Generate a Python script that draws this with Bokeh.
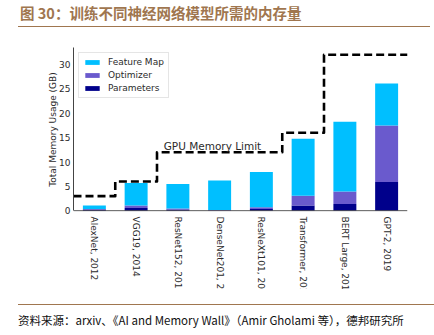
import math
from bokeh.plotting import figure
from bokeh.models import (ColumnDataSource, Range1d, FactorRange, FixedTicker,
                          Legend, LegendItem, Span, Div)
from bokeh.layouts import column
from bokeh.core.properties import value
from bokeh.embed import file_html
from bokeh.resources import INLINE

# ---------------- data ----------------
title_text = "图 30：训练不同神经网络模型所需的内存量"
source_text = "资料来源：arxiv、《AI and Memory Wall》（Amir Gholami 等），德邦研究所"
models = ["AlexNet, 2012", "VGG19, 2014", "ResNet152, 2015", "DenseNet201, 2016",
          "ResNeXt101, 2016", "Transformer, 2017", "BERT Large, 2018", "GPT-2, 2019"]
parameters = [0.24, 0.55, 0.24, 0.08, 0.35, 1.1, 1.37, 5.9]
optimizer = [0.1, 0.55, 0.2, 0.08, 0.35, 1.98, 2.6, 11.6]
feature_map = [0.76, 4.6, 5.06, 6.04, 7.25, 11.7, 14.3, 8.6]
gpu_limit = [3, 6, 12, 12, 12, 16, 32, 32]
y_ticks = [0, 5, 10, 15, 20, 25, 30]
series_names = ["Feature Map", "Optimizer", "Parameters"]
series_colors = ["#00BFFF", "#6A5ACD", "#00008B"]

BROWN = "#a0764f"
TXT = "#2b2b2b"
FONT = "DejaVu Sans"
CJK = "Noto Sans CJK SC"

# layout constants (pixels)
W, H_HEAD, H_FOOT = 434, 30, 46
FRAME_TOP, FRAME_LEFT, FRAME_RIGHT, FRAME_BOTTOM = 17, 73, 27, 5
FRAME_H = 164
Y_MIN, Y_MAX = -0.15, 33.5
H_MAIN = FRAME_TOP + FRAME_H + FRAME_BOTTOM
H_LAB = 335 - H_HEAD - H_MAIN - H_FOOT   # rows for the (clipped) category labels

# ---------------- header ----------------
head = Div(width=W, height=H_HEAD, margin=0, text=(
    f'<div style="position:relative;width:{W}px;height:{H_HEAD}px;">'
    f'<div style="position:absolute;left:20px;top:3px;white-space:nowrap;'
    f'font-family:\'{CJK}\';font-weight:bold;font-size:14.5px;line-height:20px;'
    f'color:{BROWN};">{title_text}</div>'
    f'<div style="position:absolute;left:18px;top:26px;width:412px;height:0;'
    f'border-top:1.5px solid {BROWN};"></div></div>'))

# ---------------- main chart ----------------
xr = FactorRange(*models, range_padding=0)
src = ColumnDataSource(dict(model=models, params=parameters, opt=optimizer, fm=feature_map,
                            lab_y=[0] * len(models)))
p = figure(width=W, height=H_MAIN, x_range=xr,
           y_range=Range1d(Y_MIN, Y_MAX), output_backend="svg", toolbar_location=None,
           min_border_left=FRAME_LEFT, min_border_right=FRAME_RIGHT,
           min_border_top=FRAME_TOP, min_border_bottom=FRAME_BOTTOM)
p.outline_line_color = None
p.xgrid.visible = False
p.ygrid.visible = False
p.xaxis.visible = False

rs = p.vbar_stack(["params", "opt", "fm"], x="model", width=0.55, source=src,
                  color=[series_colors[2], series_colors[1], series_colors[0]], line_color=None)

# x axis baseline
p.add_layout(Span(location=0, dimension="width", line_color="#444444", line_width=1))

# GPU memory limit step line
step_x, step_y = [], []
for m, lim in zip(models, gpu_limit):
    step_x += [(m, -0.5), (m, 0.5)]
    step_y += [lim, lim]
p.line(x=step_x, y=step_y, line_color="black", line_width=2.6, line_dash="8 4",
       line_join="round")
p.text(x=[(models[2], -0.34)], y=[13.3], text=["GPU Memory Limit"], text_font=value(FONT),
       text_font_size="10.5px", text_color=TXT, text_align="left", text_baseline="alphabetic")

# y axis
yax = p.yaxis[0]
yax.bounds = (0, Y_MAX)
yax.ticker = FixedTicker(ticks=y_ticks)
yax.minor_tick_line_color = None
yax.major_tick_out = 0
yax.major_tick_in = 0
yax.major_label_standoff = 3
yax.major_label_text_font = FONT
yax.major_label_text_font_size = "9px"
yax.major_label_text_color = TXT
yax.axis_label = "Total Memory Usage (GB)"
yax.axis_label_text_font = FONT
yax.axis_label_text_font_size = "9px"
yax.axis_label_text_font_style = "normal"
yax.axis_label_text_color = TXT
yax.axis_label_standoff = -2
yax.axis_line_color = "#444444"

# legend
legend = Legend(items=[LegendItem(label=series_names[0], renderers=[rs[2]]),
                       LegendItem(label=series_names[1], renderers=[rs[1]]),
                       LegendItem(label=series_names[2], renderers=[rs[0]])],
                location="top_left", margin=5, padding=4, spacing=3,
                glyph_width=18, glyph_height=6, label_standoff=7,
                label_text_font=FONT, label_text_font_size="9px", label_text_color=TXT,
                border_line_color="#cccccc", border_line_width=1,
                background_fill_color="white", background_fill_alpha=0.85)
p.add_layout(legend)

# ---------------- category labels (rotated, cut off at the bottom like the reference) ----
lab = figure(width=W, height=H_LAB, x_range=xr, y_range=Range1d(H_LAB, 0),
             output_backend="svg", toolbar_location=None,
             min_border_left=FRAME_LEFT, min_border_right=FRAME_RIGHT,
             min_border_top=0, min_border_bottom=0)
lab.xaxis.visible = False
lab.yaxis.visible = False
lab.xgrid.visible = False
lab.ygrid.visible = False
lab.outline_line_color = None
lab.text(x="model", y="lab_y", text="model", source=src, angle=-math.pi / 2,
         text_align="left", text_baseline="middle", text_font=value(FONT),
         text_font_size="9px", text_color=TXT)

# ---------------- footer ----------------
foot = Div(width=W, height=H_FOOT, margin=0, text=(
    f'<div style="position:relative;width:{W}px;height:{H_FOOT}px;">'
    f'<div style="position:absolute;left:18px;top:15px;width:416px;height:0;'
    f'border-top:1.5px solid {BROWN};"></div>'
    f'<div style="position:absolute;left:18px;top:23px;white-space:nowrap;'
    f'font-family:\'{CJK}\';font-size:11.5px;line-height:16px;color:#111111;">'
    f'{source_text}</div></div>'))

layout = column(head, p, lab, foot, spacing=0)
open("out.html", "w").write(file_html(layout, INLINE))
